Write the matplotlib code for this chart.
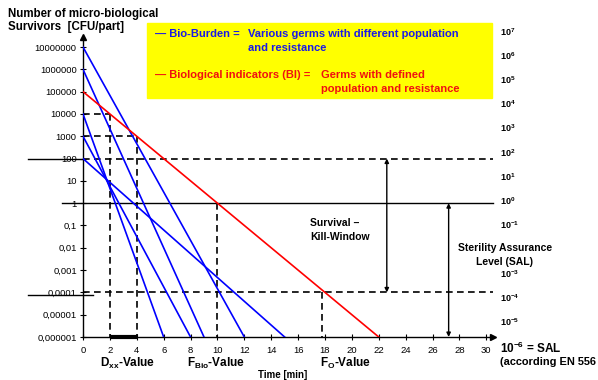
import matplotlib.pyplot as plt
from matplotlib.ticker import FixedLocator, FixedFormatter

plt.rcParams['font.family'] = 'Liberation Sans'
plt.rcParams['mathtext.fontset'] = 'custom'
plt.rcParams['mathtext.rm'] = 'Liberation Sans:bold'
plt.rcParams['mathtext.it'] = 'Liberation Sans:bold'
plt.rcParams['mathtext.bf'] = 'Liberation Sans:bold'

# survivor curves: log10 of start count at t=0 and time [min] where 1e-6 is reached
bio_start = [7, 6, 4, 3, 2]
bio_end = [12, 9, 6, 8, 15]
bi_start = 5
bi_end = 22
sal_exp = -6

# reference points
d_points = [(2, 4), (4, 3)]      # (time, log10 count)
f_bio = (10, 0)
f_o = (17.8, -4)

x_ticks = list(range(0, 31, 2))
y_exps = list(range(-6, 8))
y_labels = ['0,000001', '0,00001', '0,0001', '0,001', '0,01', '0,1', '1',
            '10', '100', '1000', '10000', '100000', '1000000', '10000000']
right_exps = [7, 6, 5, 4, 3, 2, 1, 0, -1, -3, -4, -5]

BLUE = '#0000ff'
RED = '#ff0000'
DASH = (0, (4, 2.6))

fig = plt.figure(figsize=(5.98, 3.80), dpi=100)
ax = fig.add_axes([83 / 598, 43 / 380, 410 / 598, 300 / 380])
ax.set_yscale('log')
ax.set_xlim(0, 30.5)
ax.set_ylim(10.0 ** sal_exp, 10 ** 7.45)

for s, t in zip(bio_start, bio_end):
    ax.plot([0, t], [10.0 ** s, 10.0 ** sal_exp], color=BLUE, lw=1.2, zorder=3)
ax.plot([0, bi_end], [10.0 ** bi_start, 10.0 ** sal_exp], color=RED, lw=1.2, zorder=3)

# D-value helper lines
for t, e in d_points:
    ax.plot([0, t], [10.0 ** e] * 2, color='k', lw=1.2, ls=DASH)
    ax.plot([t, t], [10.0 ** e, 10.0 ** sal_exp], color='k', lw=1.2, ls=DASH)
ax.plot([f_bio[0]] * 2, [10.0 ** f_bio[1], 10.0 ** sal_exp], color='k', lw=1.2, ls=DASH)
ax.plot([f_o[0]] * 2, [10.0 ** f_o[1], 10.0 ** sal_exp], color='k', lw=1.2, ls=DASH)
ax.plot([2, 4], [10.0 ** sal_exp] * 2, color='k', lw=3, solid_capstyle='butt',
        zorder=4, clip_on=False)

# kill window limits
ax.plot([0, 30.5], [1e2, 1e2], color='k', lw=1.2, ls=DASH, clip_on=False)
ax.plot([-4.1, 0], [1e2, 1e2], color='k', lw=1.0, clip_on=False)
ax.plot([0, 30.5], [1e-4, 1e-4], color='k', lw=1.2, ls=DASH, clip_on=False)
ax.plot([-4.1, 0.75], [10 ** -4.1] * 2, color='k', lw=1.0, clip_on=False)
ax.plot([-1.56, 30.5], [1, 1], color='k', lw=1.0, clip_on=False)

# double arrows
arrow = dict(arrowstyle='<|-|>', color='k', lw=1.0, mutation_scale=6,
             shrinkA=0, shrinkB=0)
ax.annotate('', xy=(22.6, 1e2), xytext=(22.6, 1e-4), arrowprops=arrow)
ax.annotate('', xy=(27.2, 1), xytext=(27.2, 10.0 ** sal_exp), arrowprops=arrow)

# axes: only left and bottom with arrow heads
for side in ['top', 'right']:
    ax.spines[side].set_visible(False)
ax.spines['left'].set_linewidth(1.0)
ax.spines['bottom'].set_linewidth(1.0)
ax.plot([0], [10 ** 7.45], marker='^', color='k', ms=5, clip_on=False)
ax.plot([30.5], [10.0 ** sal_exp], marker='>', color='k', ms=5, clip_on=False)

ax.yaxis.set_major_locator(FixedLocator([10.0 ** e for e in y_exps]))
ax.yaxis.set_major_formatter(FixedFormatter(y_labels))
ax.yaxis.set_minor_locator(FixedLocator([]))
ax.set_xticks(x_ticks)
ax.tick_params(direction='inout', length=5, width=0.8, labelsize=6.8, pad=2)
ax.tick_params(axis='x', pad=4)

# right hand exponent scale
for e in right_exps:
    ax.text(31.0, 10 ** (0.09 + 1.085 * e), '10$^{%d}$' % e, fontsize=6.5,
            fontweight='bold', va='center', ha='left', clip_on=False)

def ftext(x, y, s, **kw):
    fig.text(x / 598, 1 - y / 380, s, **kw)

ftext(8, 14, 'Number of micro-biological', fontsize=8.3, fontweight='bold', va='center')
ftext(8, 27, 'Survivors  [CFU/part]', fontsize=8.3, fontweight='bold', va='center')
ftext(500, 348, '10$^{-6}$ = SAL', fontsize=8.5, fontweight='bold', va='center')
ftext(500, 362, '(according EN 556', fontsize=7.9, fontweight='bold', va='center')
ftext(100, 363, 'D$_{xx}$-Value', fontsize=8.5, fontweight='bold', va='center')
ftext(187, 363, 'F$_{Bio}$-Value', fontsize=8.5, fontweight='bold', va='center')
ftext(320, 363, 'F$_{O}$-Value', fontsize=8.5, fontweight='bold', va='center')
ftext(283, 375, 'Time [min]', fontsize=7, fontweight='bold', va='center', ha='center')
ftext(310, 223, 'Survival \u2013', fontsize=7.5, fontweight='bold', va='center')
ftext(310, 237, 'Kill-Window', fontsize=7.5, fontweight='bold', va='center')
ftext(505, 248, 'Sterility Assurance', fontsize=7.5, fontweight='bold',
      va='center', ha='center')
ftext(505, 262, 'Level (SAL)', fontsize=7.5, fontweight='bold',
      va='center', ha='center')

# legend box
fig.patches.append(plt.Rectangle((147 / 598, 1 - 98 / 380), 345 / 598, 75 / 380,
                                 transform=fig.transFigure, color='#ffff00', zorder=0))
legend_blue = '#1a1ae6'
legend_red = '#f01010'
ftext(155, 34, '\u2014 Bio-Burden =', fontsize=8, fontweight='bold', color=legend_blue, va='center')
ftext(248, 34, 'Various germs with different population', fontsize=8,
      fontweight='bold', color=legend_blue, va='center')
ftext(248, 48, 'and resistance', fontsize=8, fontweight='bold', color=legend_blue, va='center')
ftext(155, 75, '\u2014 Biological indicators (BI) =', fontsize=8, fontweight='bold',
      color=legend_red, va='center')
ftext(321, 75, 'Germs with defined', fontsize=8, fontweight='bold', color=legend_red, va='center')
ftext(321, 89, 'population and resistance', fontsize=8, fontweight='bold',
      color=legend_red, va='center')

fig.savefig('out.png', dpi=100)
